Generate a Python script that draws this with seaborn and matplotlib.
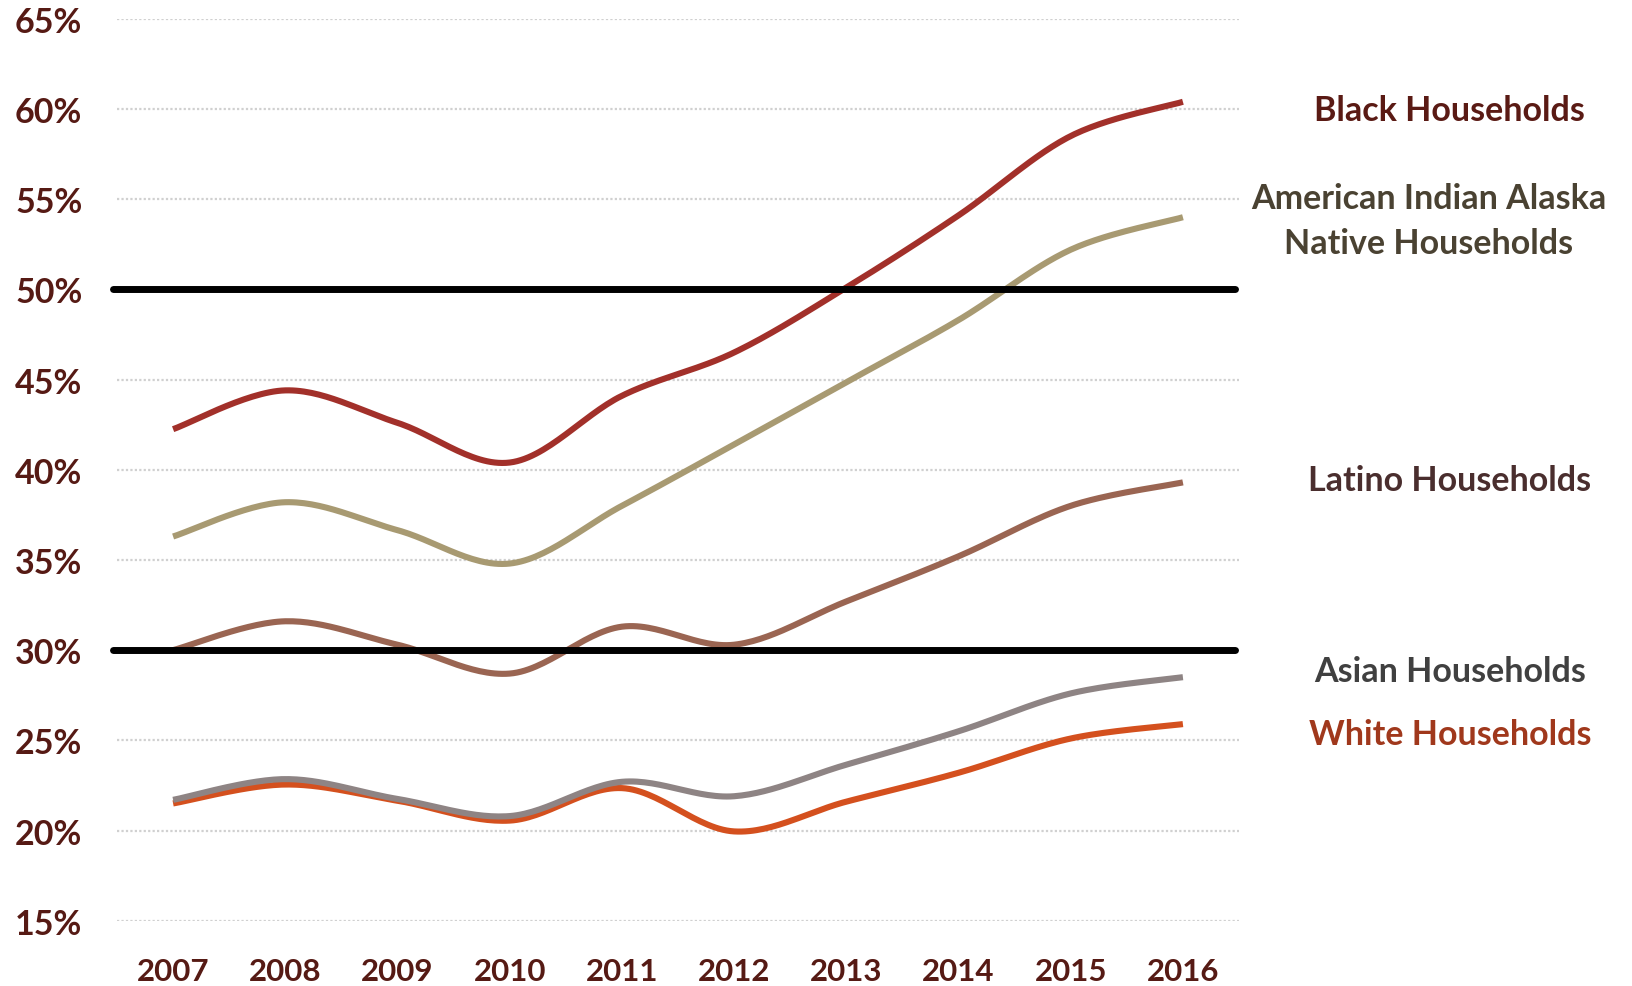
import numpy as np
import pandas as pd
import matplotlib
matplotlib.use("Agg")
import matplotlib.pyplot as plt
import seaborn as sns

# ---- data (values in %) ----
years = [2007, 2008, 2009, 2010, 2011, 2012, 2013, 2014, 2015, 2016]
black = [42.25, 44.4, 42.6, 40.4, 44.1, 46.5, 50.1, 54.1, 58.5, 60.4]
aian = [36.3, 38.2, 36.65, 34.8, 38.0, 41.4, 44.85, 48.3, 52.2, 54.0]
latino = [30.0, 31.6, 30.3, 28.7, 31.3, 30.3, 32.7, 35.2, 38.0, 39.3]
asian = [21.7, 22.85, 21.75, 20.8, 22.7, 21.9, 23.65, 25.5, 27.6, 28.5]
white = [21.5, 22.55, 21.65, 20.55, 22.35, 19.95, 21.6, 23.2, 25.1, 25.9]

series_names = ["White Households", "Asian Households", "Latino Households",
                "American Indian Alaska\nNative Households", "Black Households"]
series_values = [white, asian, latino, aian, black]
line_colors = ["#D4501E", "#8E8484", "#9A6552", "#A89A72", "#A2302A"]
label_colors = ["#A0381C", "#404040", "#4A2E2E", "#4A4232", "#5A1A14"]
label_y = [25.35, 28.85, 39.45, 53.8, 59.95]
y_ticks = [15, 20, 25, 30, 35, 40, 45, 50, 55, 60, 65]
ref_levels = [50, 30]

tick_color = "#561A14"


def smooth(x, y, n=30):
    """Catmull-Rom curve through the points (like a spreadsheet 'smoothed line')."""
    x = np.asarray(x, float)
    y = np.asarray(y, float)
    px = np.concatenate([[x[0]], x, [x[-1]]])
    py = np.concatenate([[y[0]], y, [y[-1]]])
    xs, ys = [], []
    t = np.linspace(0, 1, n, endpoint=False)
    for i in range(1, len(px) - 2):
        p0x, p1x, p2x, p3x = px[i - 1:i + 3]
        p0y, p1y, p2y, p3y = py[i - 1:i + 3]
        c1x, c1y = p1x + (p2x - p0x) / 6, p1y + (p2y - p0y) / 6
        c2x, c2y = p2x - (p3x - p1x) / 6, p2y - (p3y - p1y) / 6
        b0 = (1 - t) ** 3
        b1 = 3 * (1 - t) ** 2 * t
        b2 = 3 * (1 - t) * t ** 2
        b3 = t ** 3
        xs.append(b0 * p1x + b1 * c1x + b2 * c2x + b3 * p2x)
        ys.append(b0 * p1y + b1 * c1y + b2 * c2y + b3 * p2y)
    xs.append([x[-1]])
    ys.append([y[-1]])
    return np.concatenate(xs), np.concatenate(ys)


frames = []
for name, vals in zip(series_names, series_values):
    sx, sy = smooth(years, vals)
    frames.append(pd.DataFrame({"year": sx, "value": sy, "series": name}))
df = pd.concat(frames, ignore_index=True)

sns.set_theme(style="white")
plt.rcParams["font.family"] = ["Lato", "DejaVu Sans"]

W, H = 1633, 987
fig = plt.figure(figsize=(W / 100, H / 100), dpi=100)
ax = fig.add_axes([117 / W, 1 - 921.7 / H, (1239 - 117) / W, (921.7 - 19.8) / H])

sns.lineplot(data=df, x="year", y="value", hue="series", hue_order=series_names,
             palette=dict(zip(series_names, line_colors)), sort=False,
             estimator=None, linewidth=4.4, legend=False, ax=ax, zorder=3)
for ln in ax.get_lines():
    ln.set_solid_capstyle("butt")

for lv in ref_levels:
    ax.axhline(lv, xmin=-0.004, xmax=0.9965, color="black", linewidth=5.0,
               zorder=5, clip_on=False)

ax.set_xlim(2006.5, 2016.5)
ax.set_ylim(15, 65)
ax.set_yticks(y_ticks)
ax.set_yticklabels([f"{v}%" for v in y_ticks])
ax.set_xticks(years)
ax.set_xticklabels([str(y) for y in years])
ax.set_xlabel("")
ax.set_ylabel("")
ax.grid(axis="y", color="#D0D0D0", linestyle=(0, (1, 1)), linewidth=1.6, zorder=0)
ax.grid(axis="x", visible=False)
for s in ax.spines.values():
    s.set_visible(False)

ax.tick_params(axis="y", length=0, pad=25, labelsize=24.5, labelcolor=tick_color)
ax.tick_params(axis="x", length=0, pad=26, labelsize=22.5, labelcolor=tick_color)
for lab in ax.get_yticklabels() + ax.get_xticklabels():
    lab.set_fontweight("bold")

for name, col, yv in zip(series_names, label_colors, label_y):
    xpos = 2018.38 if "American" not in name else 2018.19
    ax.text(xpos, yv, name, color=col, fontsize=24.5, fontweight="bold",
            ha="center", va="center", linespacing=1.5, clip_on=False)

fig.savefig("out.png", dpi=100, facecolor="white")
